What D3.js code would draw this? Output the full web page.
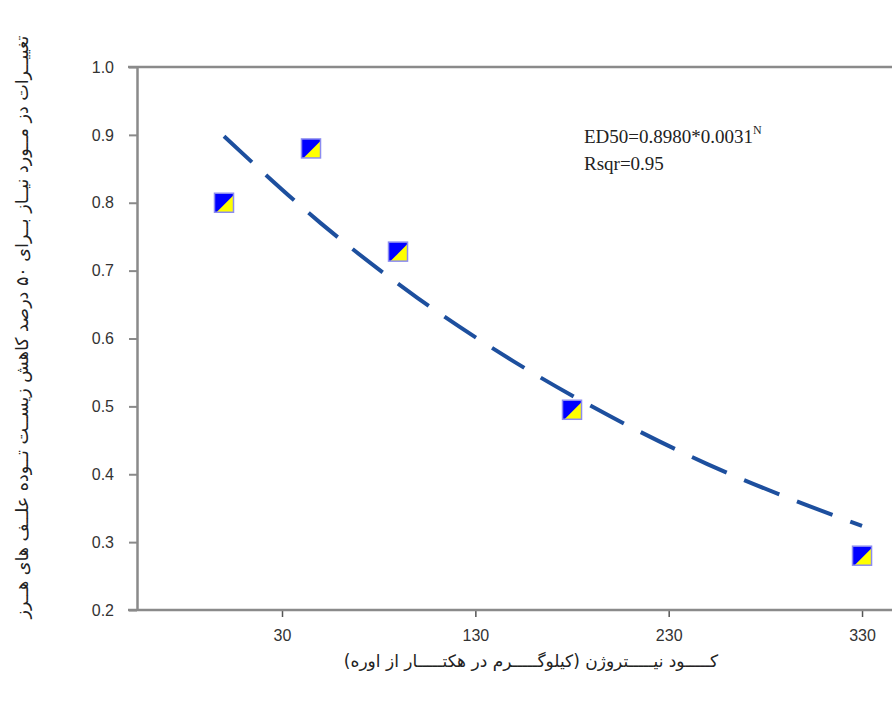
<!DOCTYPE html>
<html>
<head>
<meta charset="utf-8">
<script src="https://cdn.jsdelivr.net/npm/d3@7"></script>
<style>
  body { margin: 0; background: #fff; }
  svg { display: block; }
</style>
</head>
<body>
<script>
// nitrogen rate (kg/ha urea) and observed ED50 values
const nitrogen = [0, 45, 90, 180, 330];
const ed50 = [0.80, 0.88, 0.728, 0.495, 0.28];

// fitted curve
const fitN = [0, 50, 100, 150, 200, 250, 300, 330];
const fitY = [0.898, 0.77, 0.66, 0.566, 0.485, 0.415, 0.356, 0.324];

const xTicks = [30, 130, 230, 330];
const yTicks = [0.2, 0.3, 0.4, 0.5, 0.6, 0.7, 0.8, 0.9, 1.0];

const W = 892, H = 707;
const plotL = 137, plotR = 892, plotT = 67, plotB = 610;

const svg = d3.select('body').append('svg')
  .attr('width', W)
  .attr('height', H);

const xScale = d3.scaleLinear().domain([-45, 345.5]).range([plotL, plotR]);
const yScale = d3.scaleLinear().domain([0.2, 1.0]).range([plotB, plotT]);

const axisColor = '#8a8a8a';
const textColor = '#333';

// frame lines (top and bottom extend a little past the left axis)
svg.append('line')
  .attr('x1', plotL - 9).attr('x2', plotR)
  .attr('y1', plotT).attr('y2', plotT)
  .attr('stroke', axisColor).attr('stroke-width', 2.5);

const xAxis = svg.append('g')
  .attr('transform', `translate(0,${plotB})`)
  .call(d3.axisBottom(xScale).tickValues(xTicks).tickSize(7).tickSizeOuter(0).tickFormat(d3.format('d')));
xAxis.select('.domain').remove();
svg.append('line')
  .attr('x1', plotL - 9).attr('x2', plotR)
  .attr('y1', plotB).attr('y2', plotB)
  .attr('stroke', axisColor).attr('stroke-width', 2.5);

const yAxis = svg.append('g')
  .attr('transform', `translate(${plotL},0)`)
  .call(d3.axisLeft(yScale).tickValues(yTicks).tickSize(8).tickSizeOuter(0).tickFormat(d3.format('.1f')));
yAxis.select('.domain')
  .attr('stroke', axisColor).attr('stroke-width', 2.5);

svg.selectAll('.tick line')
  .attr('stroke', axisColor).attr('stroke-width', 2);
xAxis.selectAll('.tick line').attr('stroke', '#555').attr('stroke-width', 1.5);
svg.selectAll('.tick text')
  .attr('fill', textColor)
  .style('font-family', '"Liberation Sans", Arial, sans-serif')
  .style('font-size', '16px');
yAxis.selectAll('.tick text').attr('x', -23);
xAxis.selectAll('.tick text').attr('y', 20);

// fitted curve
const fitPts = fitN.map((n, i) => [n, fitY[i]]);
const line = d3.line()
  .x(d => xScale(d[0]))
  .y(d => yScale(d[1]))
  .curve(d3.curveMonotoneX);
svg.append('path')
  .attr('d', line(fitPts))
  .attr('fill', 'none')
  .attr('stroke', '#1d4f9e')
  .attr('stroke-width', 4)
  .attr('stroke-dasharray', '38,19');

// markers: square split into blue and yellow triangles
const s = 19;
const marks = svg.selectAll('g.mark')
  .data(nitrogen.map((n, i) => [n, ed50[i]]))
  .enter().append('g')
  .attr('class', 'mark')
  .attr('transform', d => `translate(${xScale(d[0])},${yScale(d[1])})`);
marks.append('rect')
  .attr('x', -s / 2).attr('y', -s / 2)
  .attr('width', s).attr('height', s)
  .attr('fill', '#0000ff');
marks.append('path')
  .attr('d', `M${s / 2},${-s / 2 + 2}L${s / 2},${s / 2}L${-s / 2 + 2},${s / 2}Z`)
  .attr('fill', '#ffff00');
marks.append('rect')
  .attr('x', -s / 2).attr('y', -s / 2)
  .attr('width', s).attr('height', s)
  .attr('fill', 'none')
  .attr('stroke', '#8c8cf0')
  .attr('stroke-width', 1.5);

// equation text
const eq = svg.append('text')
  .attr('x', 584).attr('y', 143)
  .attr('fill', '#222')
  .style('font-family', '"Liberation Serif", "Times New Roman", serif')
  .style('font-size', '19px');
eq.append('tspan').text('ED50=0.8980*0.0031');
eq.append('tspan').attr('dy', -9).style('font-size', '12px').text('N');
svg.append('text')
  .attr('x', 584).attr('y', 170)
  .attr('fill', '#222')
  .style('font-family', '"Liberation Serif", "Times New Roman", serif')
  .style('font-size', '19px')
  .text('Rsqr=0.95');

// axis titles
svg.append('text')
  .attr('x', 531).attr('y', 667)
  .attr('text-anchor', 'middle')
  .attr('direction', 'rtl')
  .attr('fill', '#222')
  .style('font-family', '"DejaVu Sans", sans-serif')
  .style('font-size', '17px')
  .text('کـــــود نیـــــتروژن (کیلوگـــــرم در هکتـــــار از اوره)');

svg.append('text')
  .attr('transform', 'translate(28,327) rotate(-90)')
  .attr('text-anchor', 'middle')
  .attr('direction', 'rtl')
  .attr('fill', '#222')
  .style('font-family', '"DejaVu Sans", sans-serif')
  .style('font-size', '17.5px')
  .text('تغییــرات دز مــورد نیــاز بــرای ۵۰ درصد کاهش زیســت تــوده علــف های هــرز');
</script>
</body>
</html>
